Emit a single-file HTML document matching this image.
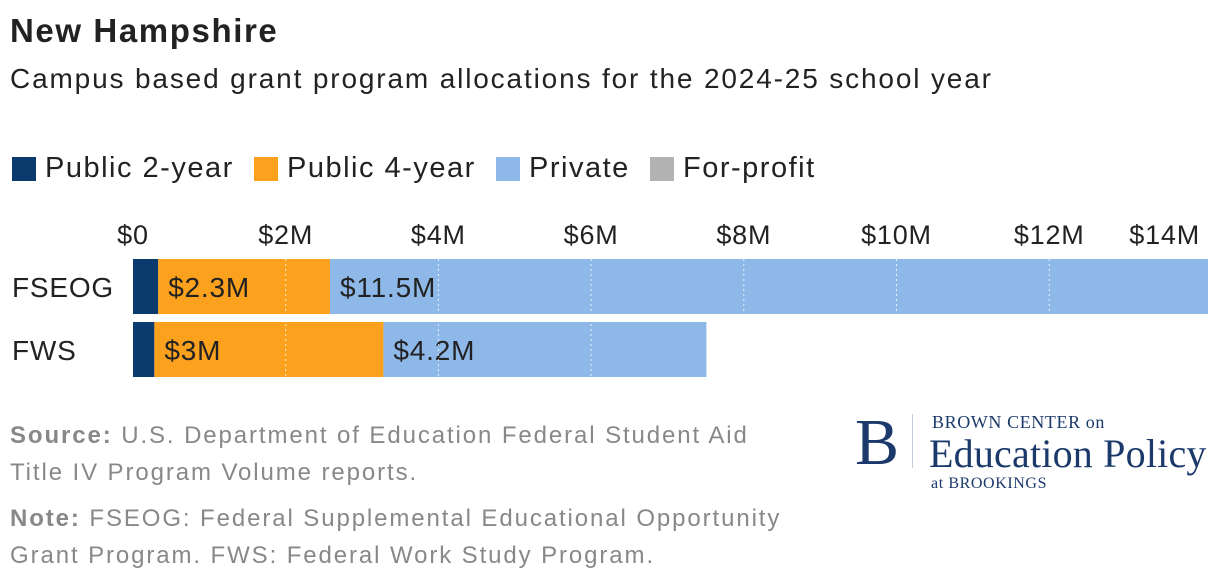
<!DOCTYPE html>
<html><head><meta charset="utf-8"><style>
body{margin:0;width:1220px;height:584px;background:#fff;font-family:"Liberation Sans",sans-serif;position:relative;overflow:hidden;color:#222}
.a{position:absolute;white-space:nowrap}
.sw{position:absolute;width:24px;height:24px;top:5px;left:0}
.lg{position:absolute;font-size:29px;color:#222;letter-spacing:1.5px}
.lg span.t{position:absolute;left:33px;top:0}
.ft{font-size:24px;color:#888;line-height:37px;letter-spacing:1.9px}
.ft b{color:#888}
svg text{letter-spacing:0.8px}
</style></head><body>
<div class="a" style="left:10px;top:12px;font-size:33px;font-weight:bold;color:#222;letter-spacing:1.6px">New Hampshire</div>
<div class="a" style="left:10px;top:63px;font-size:28px;color:#222;letter-spacing:1.85px">Campus based grant program allocations for the 2024-25 school year</div>
<div class="a" style="left:0;top:152px;width:900px;height:40px">
<div class="lg" style="left:12px"><span class="sw" style="background:#0b3a6e"></span><span class="t">Public 2-year</span></div>
<div class="lg" style="left:254px"><span class="sw" style="background:#fba11e"></span><span class="t">Public 4-year</span></div>
<div class="lg" style="left:496px"><span class="sw" style="background:#8db8e8"></span><span class="t">Private</span></div>
<div class="lg" style="left:650px"><span class="sw" style="background:#b2b2b2"></span><span class="t">For-profit</span></div>
</div>
<svg id="c" class="a" style="left:0;top:0" width="1220" height="400"></svg>
<div class="a ft" style="left:10px;top:417px"><b>Source:</b> U.S. Department of Education Federal Student Aid<br>Title IV Program Volume reports.</div>
<div class="a ft" style="left:10px;top:500px"><b>Note:</b> FSEOG: Federal Supplemental Educational Opportunity<br>Grant Program. FWS: Federal Work Study Program.</div>
<div class="a" style="left:855px;top:410px;color:#1b3a6b;font-family:'Liberation Serif',serif">
<div class="a" style="left:0;top:0;font-size:66px;line-height:66px">B</div>
<div class="a" style="left:57px;top:4px;width:1px;height:54px;background:#c5cfdc"></div>
<div class="a" style="left:77px;top:2px;font-size:18px;letter-spacing:0.6px">BROWN CENTER on</div>
<div class="a" style="left:74px;top:20px;font-size:40px;letter-spacing:0.2px">Education Policy</div>
<div class="a" style="left:76px;top:65px;font-size:16px;letter-spacing:0.6px">at BROOKINGS</div>
</div>
<script>
const categories=["FSEOG","FWS"];
const public2=[0.33,0.28];
const public4=[2.25,3.0];
const privateV=[11.5,4.23];
const labels4=["$2.3M","$3M"];
const labelsP=["$11.5M","$4.2M"];
const ticks=[0,2,4,6,8,10,12,14];
const tickLabels=["$0","$2M","$4M","$6M","$8M","$10M","$12M","$14M"];
const NS="http://www.w3.org/2000/svg",svg=document.getElementById('c');
const x0=133,x1=1208,maxV=Math.max(...categories.map((c,i)=>public2[i]+public4[i]+privateV[i]));
const x=v=>x0+v/maxV*(x1-x0);
function mk(t,a){const e=document.createElementNS(NS,t);for(const k in a)e.setAttribute(k,a[k]);svg.appendChild(e);return e;}
const rowY=[259,322],bh=55;
categories.forEach((c,i)=>{
 let s=0;
 [[public2[i],'#0b3a6e'],[public4[i],'#fba11e'],[privateV[i],'#8db8e8']].forEach((p,j)=>{
  const r=mk('rect',{x:x(s),y:rowY[i],width:x(s+p[0])-x(s),height:bh,fill:p[1]});
  
  
  s+=p[0];
 });
 const t=mk('text',{x:12,y:rowY[i]+38,'font-size':28,fill:'#222'});t.textContent=c;
 
 
 const a=mk('text',{x:x(public2[i])+10,y:rowY[i]+38,'font-size':28,fill:'#222'});a.textContent=labels4[i];
 
 
 const b=mk('text',{x:x(public2[i]+public4[i])+10,y:rowY[i]+38,'font-size':28,fill:'#222'});b.textContent=labelsP[i];
 
 
});
ticks.forEach((v,i)=>{
 if(v>0&&v<14){const l=mk('line',{x1:x(v),x2:x(v),y1:259,y2:377,stroke:'#fff','stroke-width':1,'stroke-dasharray':'2,3','stroke-opacity':0.8});
 
 }
 let tx=x(v),anchor='middle';if(i===ticks.length-1){tx=1200;anchor='end';}
 const t=mk('text',{x:tx,y:244,'font-size':27,fill:'#222','text-anchor':anchor});t.textContent=tickLabels[i];
 
 
});
</script>
</body></html>
